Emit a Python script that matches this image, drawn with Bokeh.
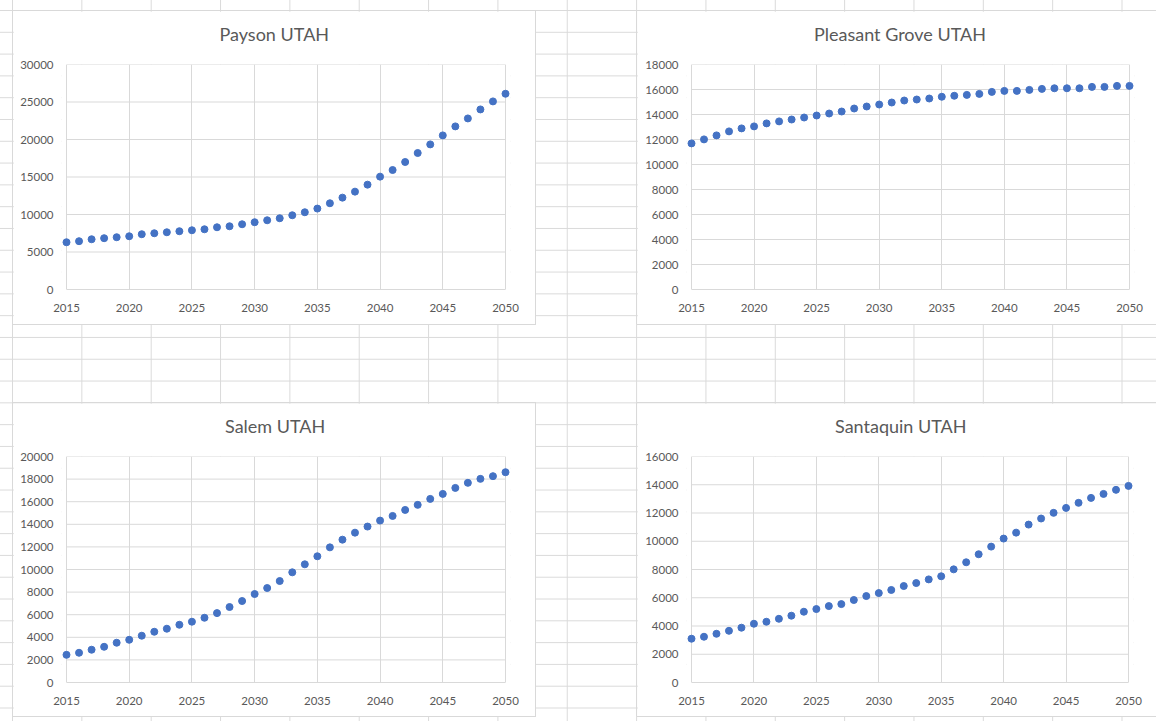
from bokeh.plotting import figure
from bokeh.layouts import column, row
from bokeh.models import Range1d, FixedTicker, Title
from bokeh.embed import file_html
from bokeh.resources import INLINE

# ---------------- data ----------------
years = list(range(2015, 2051))

payson = [6300, 6440, 6700, 6840, 6970, 7100, 7370, 7500, 7630, 7770,
          7900, 8030, 8300, 8430, 8700, 8970, 9230, 9500, 9900, 10300,
          10790, 11500, 12250, 13050, 13980, 15050, 15930, 17000, 18200, 19350,
          20550, 21750, 22810, 24010, 25080, 26100]

pleasant_grove = [11690, 12010, 12330, 12650, 12890, 13050, 13290, 13450, 13600, 13760,
                  13920, 14080, 14240, 14480, 14640, 14800, 14960, 15120, 15200, 15280,
                  15420, 15500, 15570, 15650, 15810, 15890, 15890, 15970, 16050, 16100,
                  16100, 16100, 16210, 16210, 16290, 16290]

salem = [2450, 2630, 2900, 3160, 3520, 3780, 4140, 4490, 4760, 5110,
         5380, 5730, 6140, 6680, 7210, 7830, 8360, 8980, 9750, 10460,
         11170, 11960, 12640, 13260, 13800, 14330, 14740, 15270, 15720, 16250,
         16690, 17220, 17670, 18020, 18260, 18610]

santaquin = [3100, 3240, 3450, 3660, 3880, 4160, 4300, 4510, 4730, 5010,
             5200, 5410, 5550, 5840, 6120, 6330, 6550, 6830, 7040, 7300,
             7520, 8010, 8510, 9080, 9620, 10190, 10610, 11180, 11610, 12010,
             12360, 12720, 13070, 13350, 13640, 13920]

titles = ["Payson UTAH", "Pleasant Grove UTAH", "Salem UTAH", "Santaquin UTAH"]

x_ticks = [2015, 2020, 2025, 2030, 2035, 2040, 2045, 2050]
payson_ticks = [0, 5000, 10000, 15000, 20000, 25000, 30000]
pleasant_grove_ticks = [0, 2000, 4000, 6000, 8000, 10000, 12000, 14000, 16000, 18000]
salem_ticks = [0, 2000, 4000, 6000, 8000, 10000, 12000, 14000, 16000, 18000, 20000]
santaquin_ticks = [0, 2000, 4000, 6000, 8000, 10000, 12000, 14000, 16000]

# ---------------- style ----------------
BLUE = "#4472C4"
TEXT = "#595959"
CHART_GRID = "#D9D9D9"
SHEET_GRID = "#DADADA"
FONT = "Lato"

# per chart (page pixels): figure box (left, top, width, height), plot area (x0, x1, y0, y1),
# title (centre x, estimated text width), visible box edges
geometry = [
    ((13, 11, 522, 313), (66, 505, 64, 289), (273.5, 109), "all"),
    ((637, 11, 519, 313), (691, 1129, 64, 289), (899, 171), "open_right"),
    ((13, 403, 522, 313), (66, 505, 456, 682), (274, 99), "all"),
    ((637, 403, 519, 313), (691, 1128, 456, 682), (899.5, 130), "open_right"),
]


def make_chart(title, yvals, yticks, geo):
    (fx, fy, fw, fh), (px0, px1, py0, py1), (tcx, tw), edges = geo
    pad = 5
    frame_w = (px1 - px0) + 2 * pad
    frame_h = py1 - py0
    mb_left = (px0 - pad) - fx
    mb_top = py0 - fy
    mb_right = fw - mb_left - frame_w
    mb_bottom = fh - mb_top - frame_h
    per_px = (x_ticks[-1] - x_ticks[0]) / (px1 - px0)
    xr = Range1d(x_ticks[0] - pad * per_px, x_ticks[-1] + pad * per_px)
    yr = Range1d(yticks[0], yticks[-1])
    p = figure(width=fw, height=fh, x_range=xr, y_range=yr, title=title,
               output_backend="svg", toolbar_location=None,
               min_border_left=mb_left, min_border_right=mb_right,
               min_border_top=mb_top, min_border_bottom=mb_bottom,
               border_fill_color="white", background_fill_color="white",
               outline_line_color=None)
    if edges == "all":
        p.styles = {"outline": f"1px solid {CHART_GRID}"}
    else:
        p.styles = {"box-shadow": f"-1px 0 0 0 {CHART_GRID}, 0 -1px 0 0 {CHART_GRID}, 0 1px 0 0 {CHART_GRID}"}

    p.title.align = "left"
    p.title.offset = (tcx - tw / 2) - (px0 - pad)
    p.title.text_font = FONT
    p.title.text_font_size = "18px"
    p.title.text_font_style = "normal"
    p.title.text_color = TEXT
    p.title.standoff = 0
    # empty band between the title and the plot area
    p.add_layout(Title(text=" ", text_font_size="1px", standoff=17), "above")

    for ax in (p.xaxis[0], p.yaxis[0]):
        ax.major_tick_line_color = None
        ax.minor_tick_line_color = None
        ax.major_tick_out = 0
        ax.major_tick_in = 0
        ax.minor_tick_out = 0
        ax.major_label_text_font = FONT
        ax.major_label_text_font_size = "11.5px"
        ax.major_label_text_color = TEXT

    p.xaxis.ticker = FixedTicker(ticks=x_ticks)
    p.xaxis.bounds = (x_ticks[0], x_ticks[-1])
    p.xaxis.axis_line_color = CHART_GRID
    p.xaxis.major_label_standoff = 14

    p.yaxis.ticker = FixedTicker(ticks=yticks)
    p.yaxis.axis_line_color = None
    p.yaxis.major_label_standoff = 8

    p.xgrid.ticker = FixedTicker(ticks=x_ticks)
    p.xgrid.grid_line_color = CHART_GRID
    p.ygrid.visible = False
    p.segment(x0=x_ticks[0], x1=x_ticks[-1], y0=yticks[1:], y1=yticks[1:],
              line_color=CHART_GRID, line_width=1)

    p.scatter(years, yvals, size=7, fill_color=BLUE, line_color=BLUE)
    return p


series = [payson, pleasant_grove, salem, santaquin]
tick_sets = [payson_ticks, pleasant_grove_ticks, salem_ticks, santaquin_ticks]
charts = [make_chart(t, s, k, g) for t, s, k, g in zip(titles, series, tick_sets, geometry)]

p1, p2, p3, p4 = charts
gap_x = geometry[1][0][0] - (geometry[0][0][0] + geometry[0][0][2])
gap_y = geometry[2][0][1] - (geometry[0][0][1] + geometry[0][0][3])
row1 = row(p1, p2, spacing=gap_x)
row2 = row(p3, p4, spacing=gap_x)
row1.margin = (geometry[0][0][1], 0, 0, geometry[0][0][0])
row2.margin = (0, 0, 5, geometry[2][0][0])
root = column(row1, row2, spacing=gap_y)

# spreadsheet cell grid behind the charts (column width 69.35px, row height 21.8px)
root.styles = {
    "background-color": "white",
    "background-image": (f"linear-gradient(to right, {SHEET_GRID} 1px, transparent 1px), "
                         f"linear-gradient(to bottom, {SHEET_GRID} 1px, transparent 1px)"),
    "background-size": "69.35px 100%, 100% 21.8px",
    "background-position": "12px 0px, 0px 10px",
}

open("out.html", "w").write(file_html(root, INLINE))
